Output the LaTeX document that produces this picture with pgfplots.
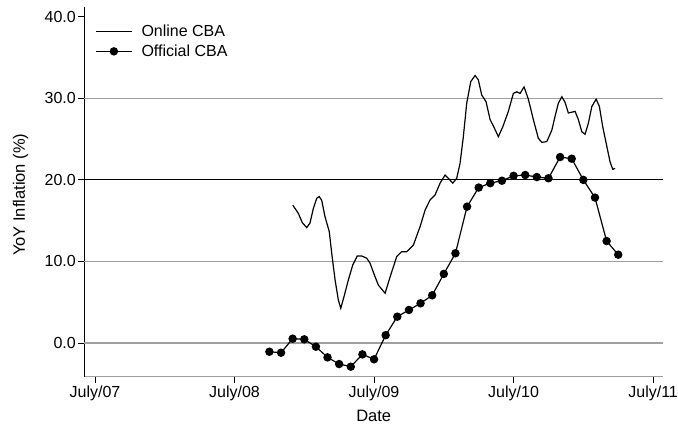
\documentclass[border=0pt]{standalone}
\usepackage{pgfplots}
\pgfplotsset{compat=1.18}
\usepackage{fontspec}
\setmainfont{Liberation Sans}
\pgfplotsset{
  linelegend/.style={legend image code/.code={\draw[##1] (0pt,0pt) -- (36pt,0pt);}},
  marklegend/.style={legend image code/.code={\draw[mark repeat=2,mark phase=2,##1] plot coordinates {(0pt,0pt) (18pt,0pt) (36pt,0pt)};}},
}
\begin{document}
\begin{tikzpicture}
\path[use as bounding box] (0pt,0pt) rectangle (678pt,427pt);
\begin{axis}[
  at={(84.5pt,50.3pt)}, anchor=south west,
  scale only axis, width=578.5pt, height=369.7pt,
  xmin=-0.9, xmax=48.85, ymin=-4.13, ymax=41.2,
  axis x line*=bottom, axis y line*=left,
  x axis line style={gray!75, line width=1.4pt},
  y axis line style={black, line width=0.9pt},
  tick align=outside, major tick length=6pt,
  xtick={0,12,24,36,48},
  xticklabels={July/07,July/08,July/09,July/10,July/11},
  xtick style={black, line width=0.8pt},
  ytick={0,10,20,30,40},
  ytick style={black, line width=0.8pt},
  yticklabel style={/pgf/number format/fixed, /pgf/number format/fixed zerofill, /pgf/number format/precision=1, /pgf/number format/assume math mode=true, font=\fontsize{16}{19}\selectfont, inner sep=2.5pt},
  xticklabel style={font=\fontsize{16}{19}\selectfont, inner sep=3pt},
  extra y ticks={0,10,30},
  extra y tick labels={},
  extra y tick style={grid=major, major grid style={gray!75, line width=1.1pt}, major tick length=0pt},
  minor ytick={20}, yminorgrids=true,
  minor grid style={black, line width=1.1pt}, minor tick length=0pt,
  xlabel={Date},
  xlabel style={font=\fontsize{16.5}{19}\selectfont, at={(axis description cs:0.5,0)}, anchor=base, yshift=-45pt},
  ylabel={YoY Inflation (\%)},
  ylabel style={font=\fontsize{16.5}{19}\selectfont, at={(axis description cs:-0.1029,0.492)}, anchor=base},
  legend style={draw=none, fill=none, at={(0.0166,0.9607)}, anchor=north west,
    font=\fontsize{16}{19}\selectfont, row sep=3pt, column sep=7pt, inner sep=1pt},
  legend cell align=left,
  clip=false,
]
\addplot[black, line width=1.2pt, linelegend]
coordinates {
(17.01,16.9) (17.49,15.9) (17.83,14.76) (18.21,14.15) (18.49,14.7) (18.78,16.5)
(19.07,17.75) (19.29,17.95) (19.50,17.5) (19.78,15.5) (20.15,13.66) (20.36,11.0)
(20.65,7.73) (20.93,5.27) (21.14,4.26) (21.42,5.7) (21.79,7.73) (22.17,9.57)
(22.56,10.67) (22.94,10.67) (23.37,10.4) (23.66,9.78) (24.03,8.34) (24.37,7.1)
(24.95,6.1) (25.38,8.1) (25.95,10.6) (26.38,11.2) (26.81,11.2) (27.38,12.0)
(27.96,14.27) (28.39,16.3) (28.82,17.55) (29.25,18.16) (29.68,19.6) (30.11,20.6)
(30.39,20.2) (30.77,19.6) (31.11,20.2) (31.40,22.05) (31.68,25.3) (31.97,29.4)
(32.32,32.06) (32.69,32.8) (32.97,32.27) (33.26,30.4) (33.63,29.6) (33.98,27.4)
(34.35,26.35) (34.69,25.3) (35.07,26.5) (35.55,28.4) (35.98,30.6) (36.28,30.8)
(36.56,30.6) (36.90,31.4) (37.27,29.9) (37.70,27.4) (38.13,25.1) (38.43,24.6)
(38.86,24.7) (39.29,26.1) (39.57,27.8) (39.85,29.4) (40.15,30.2) (40.43,29.5)
(40.71,28.2) (41.01,28.3) (41.29,28.4) (41.57,27.4) (41.87,25.9) (42.15,25.6)
(42.43,26.95) (42.73,29.0) (43.10,29.9) (43.38,29.0) (43.67,26.5) (44.02,24.1)
(44.30,22.2) (44.53,21.3) (44.73,21.4)
};
\addlegendentry{Online CBA}
\addplot[black, line width=1.2pt, mark=*, mark size=3.6pt, marklegend]
coordinates {
(15,-1.07) (16,-1.19) (17,0.53) (18,0.45) (19,-0.45) (20,-1.76) (21,-2.58)
(22,-2.90) (23,-1.39) (24,-2.00) (25,0.96) (26,3.23) (27,4.05) (28,4.87)
(29,5.85) (30,8.47) (31,11.0) (32,16.72) (33,19.06) (34,19.6) (35,19.9)
(36,20.5) (37,20.6) (38,20.35) (39,20.2) (40,22.8) (41,22.6) (42,20.0)
(43,17.83) (44,12.5) (45,10.83)
};
\addlegendentry{Official CBA}
\end{axis}
\end{tikzpicture}
\end{document}
